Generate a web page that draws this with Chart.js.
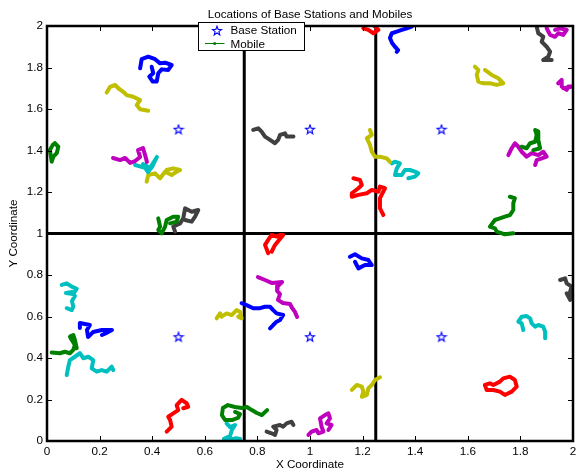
<!DOCTYPE html>
<html><head><meta charset="utf-8">
<script src="https://cdn.jsdelivr.net/npm/chart.js@4"></script>
<style>html,body{margin:0;padding:0;background:#fff}canvas{display:block}</style>
</head><body>
<canvas id="c" width="587" height="472"></canvas>
<script>
// ---------- data ----------
const xTickLabels = ['0','0.2','0.4','0.6','0.8','1','1.2','1.4','1.6','1.8','2'];
const yTickLabels = ['0','0.2','0.4','0.6','0.8','1','1.2','1.4','1.6','1.8','2'];
const stationX = [0.5, 1, 1.5, 0.5, 1, 1.5];
const stationY = [1.5, 1.5, 1.5, 0.5, 0.5, 0.5];
const cellBoundX = [0.75, 1.25];
const cellBoundY = [1];

const blue1 = [[0.354,1.796],[0.360,1.840],[0.385,1.852],[0.411,1.840],[0.430,1.820],[0.449,1.823],[0.474,1.812],[0.461,1.788],[0.436,1.791],[0.423,1.772],[0.417,1.732],[0.402,1.732],[0.389,1.756],[0.404,1.772],[0.398,1.804]];
const yellow1 = [[0.227,1.679],[0.240,1.707],[0.259,1.716],[0.271,1.700],[0.290,1.683],[0.303,1.667],[0.328,1.659],[0.354,1.643],[0.341,1.619],[0.354,1.599],[0.385,1.592]];
const green1 = [[0.030,1.435],[0.043,1.418],[0.037,1.387],[0.024,1.370],[0.018,1.346],[0.011,1.402],[0.022,1.427],[0.030,1.435]];
const magenta1 = [[0.251,1.364],[0.278,1.354],[0.297,1.364],[0.316,1.340],[0.335,1.349],[0.354,1.369],[0.346,1.402],[0.365,1.412],[0.373,1.378],[0.380,1.345]];
const cyan1 = [[0.335,1.330],[0.373,1.316],[0.384,1.296],[0.399,1.320],[0.418,1.369],[0.392,1.316],[0.365,1.335]];
const yellow2 = [[0.379,1.250],[0.385,1.282],[0.411,1.290],[0.430,1.266],[0.449,1.298],[0.474,1.282],[0.493,1.298],[0.506,1.306],[0.480,1.314],[0.455,1.306]];
const green2 = [[0.423,1.073],[0.430,1.033],[0.423,1.017],[0.436,1.001],[0.449,1.033],[0.455,1.065],[0.480,1.081],[0.499,1.081],[0.493,1.057],[0.468,1.049]];
const gray1 = [[0.487,1.009],[0.480,1.033],[0.506,1.049],[0.518,1.073],[0.525,1.121],[0.550,1.105],[0.575,1.113],[0.563,1.081],[0.550,1.057],[0.525,1.065]];
const cyan2 = [[0.056,0.752],[0.075,0.760],[0.094,0.744],[0.113,0.733],[0.099,0.708],[0.072,0.713],[0.095,0.718],[0.106,0.699],[0.095,0.675],[0.100,0.647],[0.094,0.631],[0.075,0.640]];
const blue2 = [[0.125,0.545],[0.125,0.569],[0.163,0.559],[0.152,0.535],[0.156,0.501],[0.175,0.525],[0.209,0.535],[0.247,0.535],[0.224,0.520],[0.209,0.511]];
const green3 = [[0.018,0.426],[0.049,0.423],[0.068,0.430],[0.087,0.423],[0.100,0.439],[0.106,0.463],[0.094,0.487],[0.087,0.503],[0.100,0.511],[0.106,0.487],[0.113,0.447]];
const cyan3 = [[0.075,0.318],[0.081,0.358],[0.087,0.390],[0.106,0.406],[0.125,0.423],[0.138,0.399],[0.157,0.406],[0.176,0.390],[0.170,0.350],[0.189,0.334],[0.208,0.342],[0.227,0.334],[0.246,0.358],[0.252,0.342]];
const red1 = [[0.455,0.045],[0.474,0.069],[0.468,0.101],[0.461,0.117],[0.480,0.133],[0.499,0.149],[0.493,0.173],[0.512,0.198],[0.531,0.182],[0.537,0.165],[0.518,0.158]];
const yellow3 = [[0.645,0.591],[0.658,0.615],[0.664,0.599],[0.683,0.615],[0.702,0.607],[0.721,0.631],[0.734,0.623],[0.740,0.591],[0.727,0.599]];
const magenta2 = [[0.802,0.790],[0.829,0.776],[0.856,0.761],[0.894,0.766],[0.878,0.747],[0.875,0.723],[0.886,0.708],[0.878,0.680],[0.897,0.665],[0.924,0.660],[0.932,0.641],[0.943,0.622],[0.951,0.598]];
const blue3 = [[0.740,0.664],[0.759,0.655],[0.784,0.640],[0.810,0.640],[0.829,0.647],[0.848,0.647],[0.860,0.631],[0.873,0.615],[0.898,0.607],[0.886,0.583],[0.873,0.575],[0.860,0.559],[0.848,0.543]];
const green4 = [[0.715,0.140],[0.734,0.130],[0.726,0.111],[0.703,0.101],[0.677,0.101],[0.665,0.125],[0.669,0.159],[0.688,0.173],[0.715,0.164],[0.741,0.159],[0.760,0.164],[0.779,0.149],[0.798,0.135],[0.817,0.125],[0.837,0.149]];
const cyan4 = [[0.683,0.085],[0.696,0.067],[0.715,0.077],[0.703,0.053],[0.696,0.024],[0.673,0.010],[0.688,0.005],[0.719,0.014],[0.734,0.010]];
const gray2 = [[0.835,0.045],[0.854,0.037],[0.867,0.029],[0.873,0.053],[0.860,0.069],[0.886,0.077],[0.898,0.069],[0.911,0.085],[0.930,0.093],[0.937,0.077]];
const magenta3 = [[0.994,0.029],[1.006,0.045],[1.025,0.053],[1.032,0.037],[1.051,0.045],[1.044,0.069],[1.038,0.109],[1.057,0.125],[1.070,0.133],[1.076,0.109],[1.063,0.085],[1.082,0.077],[1.070,0.053]];
const yellow4 = [[1.159,0.246],[1.178,0.270],[1.197,0.262],[1.203,0.238],[1.197,0.213],[1.216,0.222],[1.222,0.254],[1.235,0.270],[1.247,0.294],[1.266,0.307]];
const red2 = [[0.841,0.905],[0.829,0.945],[0.841,0.969],[0.854,0.993],[0.873,0.985],[0.886,0.993],[0.898,0.993],[0.867,0.945],[0.854,0.912]];
const blue4 = [[1.152,0.888],[1.171,0.900],[1.197,0.880],[1.222,0.872],[1.235,0.848],[1.209,0.848],[1.184,0.832],[1.171,0.864]];
const red3 = [[1.165,1.266],[1.190,1.258],[1.197,1.234],[1.184,1.218],[1.159,1.194],[1.159,1.177],[1.184,1.186],[1.216,1.194],[1.235,1.210],[1.260,1.201],[1.266,1.226],[1.285,1.218],[1.266,1.170],[1.266,1.121],[1.279,1.089]];
const yellow5 = [[1.228,1.499],[1.235,1.475],[1.216,1.459],[1.228,1.427],[1.235,1.394],[1.247,1.370],[1.266,1.370],[1.292,1.362],[1.304,1.345]];
const cyan5 = [[1.311,1.338],[1.323,1.346],[1.342,1.338],[1.330,1.314],[1.323,1.282],[1.349,1.282],[1.361,1.306],[1.380,1.306],[1.399,1.298],[1.412,1.290],[1.399,1.274],[1.374,1.266]];
const gray3 = [[0.784,1.499],[0.803,1.507],[0.816,1.491],[0.829,1.467],[0.848,1.451],[0.867,1.435],[0.879,1.451],[0.886,1.475],[0.905,1.483],[0.911,1.467],[0.937,1.467]];
const red4 = [[1.203,1.989],[1.222,1.981],[1.241,1.965],[1.260,1.981],[1.247,1.997]];
const blue5 = [[1.387,1.997],[1.368,1.989],[1.349,1.981],[1.330,1.973],[1.311,1.965],[1.304,1.942],[1.312,1.918],[1.323,1.900],[1.335,1.884],[1.330,1.875]];
const gray4 = [[1.862,1.997],[1.868,1.965],[1.887,1.949],[1.881,1.924],[1.900,1.900],[1.913,1.876],[1.906,1.852],[1.887,1.836],[1.919,1.836]];
const magenta4 = [[1.900,1.989],[1.913,1.957],[1.932,1.948],[1.944,1.965],[1.963,1.957],[1.976,1.981],[1.951,1.989],[1.932,1.981]];
const yellow6 = [[1.627,1.804],[1.640,1.788],[1.634,1.764],[1.640,1.732],[1.659,1.724],[1.684,1.724],[1.710,1.716],[1.735,1.724],[1.716,1.748],[1.691,1.764],[1.665,1.788]];
const magenta5 = [[1.944,1.724],[1.957,1.740],[1.957,1.708],[1.976,1.692],[1.982,1.708],[2.0,1.708],[1.963,1.700]];
const green5 = [[1.805,1.418],[1.824,1.411],[1.837,1.435],[1.856,1.442],[1.862,1.475],[1.856,1.499],[1.868,1.491],[1.868,1.451],[1.875,1.411],[1.849,1.402]];
const magenta6 = [[1.754,1.378],[1.767,1.411],[1.779,1.435],[1.792,1.418],[1.805,1.394],[1.824,1.370],[1.843,1.387],[1.868,1.378],[1.887,1.394],[1.900,1.370],[1.862,1.354],[1.856,1.330]];
const green6 = [[1.760,1.177],[1.779,1.170],[1.773,1.146],[1.773,1.113],[1.760,1.089],[1.741,1.081],[1.722,1.073],[1.703,1.065],[1.684,1.033],[1.703,1.025],[1.710,1.009],[1.741,0.996],[1.773,1.001]];
const gray5 = [[1.951,0.776],[1.970,0.784],[1.976,0.760],[1.995,0.744],[1.989,0.720],[2.0,0.688],[1.976,0.712],[1.989,0.680]];
const cyan6 = [[1.811,0.535],[1.805,0.567],[1.792,0.575],[1.805,0.599],[1.824,0.602],[1.837,0.591],[1.843,0.567],[1.856,0.551],[1.868,0.559],[1.887,0.551],[1.894,0.527],[1.894,0.495]];
const red5 = [[1.665,0.270],[1.684,0.278],[1.697,0.270],[1.722,0.286],[1.735,0.302],[1.760,0.310],[1.779,0.294],[1.786,0.262],[1.767,0.238],[1.741,0.222],[1.722,0.238],[1.697,0.246],[1.672,0.246],[1.665,0.270]];

// ---------- styles ----------
const COL = {blue:'#0000ff', green:'#008000', red:'#ff0000', cyan:'#00bfbf', magenta:'#bf00bf', yellow:'#bfbf00', gray:'#404040'};
const mobiles = [
  [blue1,'blue'],[yellow1,'yellow'],[green1,'green'],[magenta1,'magenta'],[cyan1,'cyan'],[yellow2,'yellow'],[green2,'green'],[gray1,'gray'],
  [cyan2,'cyan'],[blue2,'blue'],[green3,'green'],[cyan3,'cyan'],[red1,'red'],[yellow3,'yellow'],
  [magenta2,'magenta'],[blue3,'blue'],[green4,'green'],[cyan4,'cyan'],[gray2,'gray'],[magenta3,'magenta'],[yellow4,'yellow'],
  [red2,'red'],[blue4,'blue'],[red3,'red'],[yellow5,'yellow'],[cyan5,'cyan'],[gray3,'gray'],[red4,'red'],[blue5,'blue'],
  [gray4,'gray'],[magenta4,'magenta'],[yellow6,'yellow'],[magenta5,'magenta'],[green5,'green'],[magenta6,'magenta'],[green6,'green'],
  [gray5,'gray'],[cyan6,'cyan'],[red5,'red']
];

function makeStar(size, color){
  const c = document.createElement('canvas');
  c.width = size; c.height = size;
  const g = c.getContext('2d');
  const cx = size/2, cy = size/2, R = size/2 - 1.2, r = R*0.42;
  g.beginPath();
  for (let i=0;i<10;i++){
    const a = -Math.PI/2 + i*Math.PI/5;
    const rad = i%2===0 ? R : r;
    const px = cx + rad*Math.cos(a), py = cy + rad*Math.sin(a);
    if(i===0) g.moveTo(px,py); else g.lineTo(px,py);
  }
  g.closePath();
  g.strokeStyle = color; g.lineWidth = 1.1; g.stroke();
  return c;
}
const starImg = makeStar(12, '#0000ff');

const FONT = "'Liberation Sans', Arial, Helvetica, sans-serif";
const FS = 11.7;

const datasets = [];
cellBoundX.forEach(v => datasets.push({data:[{x:v,y:0},{x:v,y:2}], showLine:true, borderColor:'#000', borderWidth:3, pointRadius:0, order:10}));
cellBoundY.forEach(v => datasets.push({data:[{x:0,y:v},{x:2,y:v}], showLine:true, borderColor:'#000', borderWidth:3, pointRadius:0, order:10}));
mobiles.forEach(([pts,c]) => datasets.push({
  data: pts.map(p => ({x:p[0], y:p[1]})), showLine:true, borderColor:COL[c], backgroundColor:COL[c],
  borderWidth:4, pointRadius:0, borderCapStyle:'round', borderJoinStyle:'round', tension:0, order:5
}));
datasets.push({data: stationX.map((x,i)=>({x, y:stationY[i]})), showLine:false, pointStyle:starImg, pointRadius:6, order:1});

const framePlugin = {
  id:'frame',
  afterDatasetsDraw(chart){
    const {ctx, chartArea:a, scales} = chart;
    ctx.save();
    ctx.strokeStyle = '#000';
    ctx.lineWidth = 1;
    const tl = 5;
    scales.x.ticks.forEach(t => {
      const px = Math.round(scales.x.getPixelForValue(t.value)) + 0.5;
      ctx.beginPath(); ctx.moveTo(px, a.bottom); ctx.lineTo(px, a.bottom - tl); ctx.stroke();
      ctx.beginPath(); ctx.moveTo(px, a.top); ctx.lineTo(px, a.top + tl); ctx.stroke();
    });
    scales.y.ticks.forEach(t => {
      const py = Math.round(scales.y.getPixelForValue(t.value)) + 0.5;
      ctx.beginPath(); ctx.moveTo(a.left, py); ctx.lineTo(a.left + tl, py); ctx.stroke();
      ctx.beginPath(); ctx.moveTo(a.right, py); ctx.lineTo(a.right - tl, py); ctx.stroke();
    });
    ctx.lineWidth = 2.5;
    ctx.strokeRect(a.left, a.top, a.right - a.left, a.bottom - a.top);
    ctx.restore();
  },
  afterDraw(chart){
    const {ctx, chartArea:a} = chart;
    ctx.save();
    ctx.fillStyle = '#000';
    ctx.font = FS + 'px ' + FONT;
    ctx.textAlign = 'center'; ctx.textBaseline = 'alphabetic';
    ctx.fillText('Locations of Base Stations and Mobiles', (a.left + a.right)/2, 17.5);
    // legend
    const lx = 198.5, ly = 22.5, lw = 106, lh = 28;
    ctx.fillStyle = '#fff';
    ctx.fillRect(lx, ly, lw, lh);
    ctx.strokeStyle = '#000'; ctx.lineWidth = 1;
    ctx.strokeRect(lx, ly, lw, lh);
    ctx.drawImage(starImg, 211, 25);
    ctx.strokeStyle = COL.green; ctx.lineWidth = 1;
    ctx.beginPath(); ctx.moveTo(205, 43.5); ctx.lineTo(224.5, 43.5); ctx.stroke();
    ctx.fillStyle = COL.green;
    ctx.beginPath(); ctx.arc(214.7, 43.5, 1.6, 0, Math.PI*2); ctx.fill();
    ctx.fillStyle = '#000';
    ctx.textAlign = 'left';
    ctx.fillText('Base Station', 230.5, 34);
    ctx.fillText('Mobile', 230.5, 47.5);
    ctx.restore();
  }
};

new Chart(document.getElementById('c'), {
  type:'scatter',
  data:{datasets},
  options:{
    responsive:false, animation:false, devicePixelRatio:1, events:[],
    layout:{padding:{left:0, right:14, top:26, bottom:0}},
    plugins:{legend:{display:false}, title:{display:false}, tooltip:{enabled:false}},
    scales:{
      x:{type:'linear', min:0, max:2,
         afterFit(s){ s.height = 31; },
         ticks:{stepSize:0.2, maxRotation:0, autoSkip:false, padding:4, color:'#000', font:{family:FONT, size:FS},
                callback:(v,i)=>xTickLabels[i]},
         grid:{display:false, drawTicks:false}, border:{display:false},
         title:{display:true, text:'X Coordinate', color:'#000', font:{family:FONT, size:FS}, padding:{top:0,bottom:0}}},
      y:{type:'linear', min:0, max:2,
         afterFit(s){ s.width = 47; },
         ticks:{stepSize:0.2, autoSkip:false, padding:4, color:'#000', font:{family:FONT, size:FS},
                callback:(v,i)=>yTickLabels[i]},
         grid:{display:false, drawTicks:false}, border:{display:false},
         title:{display:true, text:'Y Coordinate', color:'#000', font:{family:FONT, size:FS}, padding:{top:6.5,bottom:0}}}
    }
  },
  plugins:[framePlugin]
});
</script>
</body></html>
